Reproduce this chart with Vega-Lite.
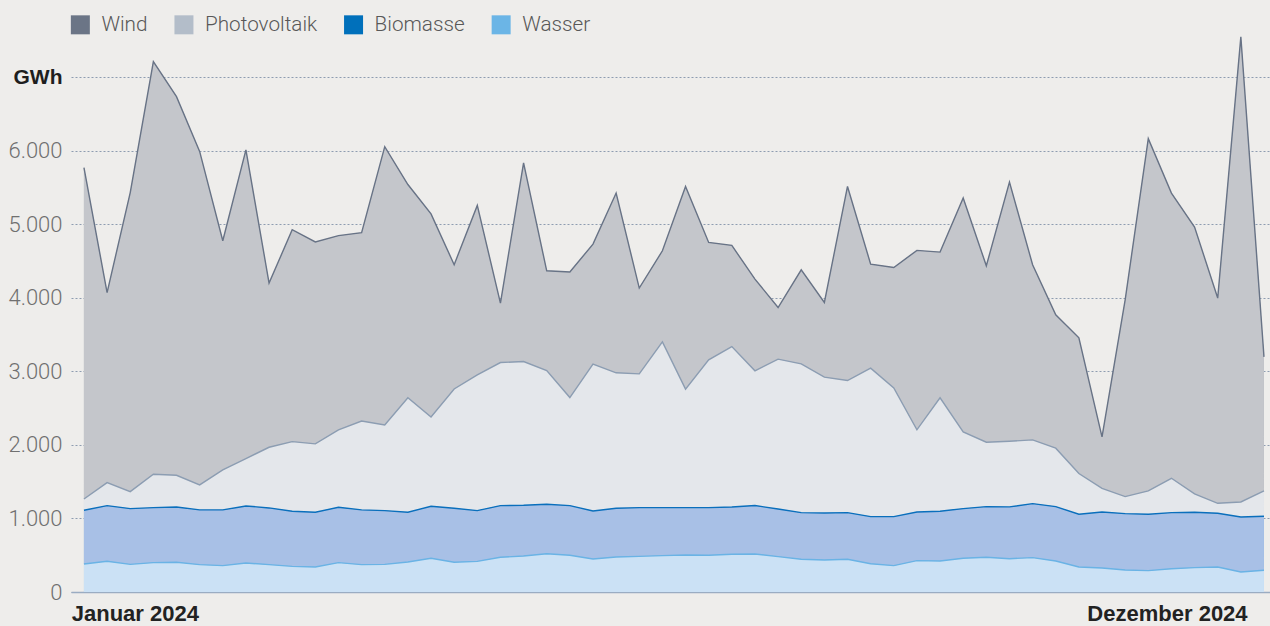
{
  "$schema": "https://vega.github.io/schema/vega-lite/v6.json",
  "width": 1199,
  "height": 559,
  "autosize": "none",
  "padding": {"left": 71, "top": 33, "right": 0, "bottom": 34},
  "background": "#eeedeb",
  "config": {"view": {"stroke": null}},
  "data": {"values": [
    {"w":0,"Wasser":381,"Biomasse":730,"Photovoltaik":154,"Wind":4505},
    {"w":1,"Wasser":417,"Biomasse":757,"Photovoltaik":313,"Wind":2583},
    {"w":2,"Wasser":376,"Biomasse":758,"Photovoltaik":231,"Wind":4065},
    {"w":3,"Wasser":399,"Biomasse":748,"Photovoltaik":454,"Wind":5609},
    {"w":4,"Wasser":404,"Biomasse":752,"Photovoltaik":431,"Wind":5148},
    {"w":5,"Wasser":372,"Biomasse":744,"Photovoltaik":340,"Wind":4534},
    {"w":6,"Wasser":358,"Biomasse":758,"Photovoltaik":544,"Wind":3115},
    {"w":7,"Wasser":395,"Biomasse":775,"Photovoltaik":644,"Wind":4196},
    {"w":8,"Wasser":372,"Biomasse":771,"Photovoltaik":825,"Wind":2232},
    {"w":9,"Wasser":349,"Biomasse":749,"Photovoltaik":947,"Wind":2880},
    {"w":10,"Wasser":340,"Biomasse":744,"Photovoltaik":930,"Wind":2746},
    {"w":11,"Wasser":399,"Biomasse":753,"Photovoltaik":1053,"Wind":2640},
    {"w":12,"Wasser":372,"Biomasse":744,"Photovoltaik":1209,"Wind":2560},
    {"w":13,"Wasser":376,"Biomasse":731,"Photovoltaik":1163,"Wind":3785},
    {"w":14,"Wasser":408,"Biomasse":676,"Photovoltaik":1556,"Wind":2900},
    {"w":15,"Wasser":458,"Biomasse":708,"Photovoltaik":1214,"Wind":2760},
    {"w":16,"Wasser":404,"Biomasse":735,"Photovoltaik":1621,"Wind":1690},
    {"w":17,"Wasser":417,"Biomasse":690,"Photovoltaik":1845,"Wind":2304},
    {"w":18,"Wasser":472,"Biomasse":703,"Photovoltaik":1945,"Wind":808},
    {"w":19,"Wasser":490,"Biomasse":689,"Photovoltaik":1954,"Wind":2700},
    {"w":20,"Wasser":521,"Biomasse":672,"Photovoltaik":1818,"Wind":1356},
    {"w":21,"Wasser":499,"Biomasse":676,"Photovoltaik":1469,"Wind":1706},
    {"w":22,"Wasser":449,"Biomasse":653,"Photovoltaik":1996,"Wind":1632},
    {"w":23,"Wasser":476,"Biomasse":663,"Photovoltaik":1841,"Wind":2444},
    {"w":24,"Wasser":485,"Biomasse":662,"Photovoltaik":1819,"Wind":1166},
    {"w":25,"Wasser":494,"Biomasse":653,"Photovoltaik":2254,"Wind":1238},
    {"w":26,"Wasser":503,"Biomasse":644,"Photovoltaik":1611,"Wind":2756},
    {"w":27,"Wasser":499,"Biomasse":648,"Photovoltaik":2009,"Wind":1596},
    {"w":28,"Wasser":513,"Biomasse":643,"Photovoltaik":2181,"Wind":1375},
    {"w":29,"Wasser":517,"Biomasse":658,"Photovoltaik":1832,"Wind":1247},
    {"w":30,"Wasser":481,"Biomasse":648,"Photovoltaik":2037,"Wind":702},
    {"w":31,"Wasser":445,"Biomasse":634,"Photovoltaik":2023,"Wind":1279},
    {"w":32,"Wasser":435,"Biomasse":640,"Photovoltaik":1846,"Wind":1015},
    {"w":33,"Wasser":445,"Biomasse":634,"Photovoltaik":1796,"Wind":2639},
    {"w":34,"Wasser":385,"Biomasse":640,"Photovoltaik":2019,"Wind":1414},
    {"w":35,"Wasser":358,"Biomasse":667,"Photovoltaik":1750,"Wind":1637},
    {"w":36,"Wasser":426,"Biomasse":662,"Photovoltaik":1117,"Wind":2439},
    {"w":37,"Wasser":422,"Biomasse":676,"Photovoltaik":1542,"Wind":1981},
    {"w":38,"Wasser":458,"Biomasse":676,"Photovoltaik":1043,"Wind":3179},
    {"w":39,"Wasser":472,"Biomasse":689,"Photovoltaik":876,"Wind":2398},
    {"w":40,"Wasser":453,"Biomasse":704,"Photovoltaik":893,"Wind":3524},
    {"w":41,"Wasser":467,"Biomasse":735,"Photovoltaik":866,"Wind":2381},
    {"w":42,"Wasser":422,"Biomasse":739,"Photovoltaik":794,"Wind":1814},
    {"w":43,"Wasser":340,"Biomasse":717,"Photovoltaik":553,"Wind":1846},
    {"w":44,"Wasser":327,"Biomasse":761,"Photovoltaik":322,"Wind":699},
    {"w":45,"Wasser":299,"Biomasse":767,"Photovoltaik":231,"Wind":2676},
    {"w":46,"Wasser":290,"Biomasse":767,"Photovoltaik":317,"Wind":4789},
    {"w":47,"Wasser":317,"Biomasse":762,"Photovoltaik":467,"Wind":3878},
    {"w":48,"Wasser":331,"Biomasse":753,"Photovoltaik":249,"Wind":3629},
    {"w":49,"Wasser":340,"Biomasse":730,"Photovoltaik":136,"Wind":2790},
    {"w":50,"Wasser":272,"Biomasse":748,"Photovoltaik":204,"Wind":6323},
    {"w":51,"Wasser":295,"Biomasse":735,"Photovoltaik":344,"Wind":1823}
  ]},
  "transform": [
    {"fold": ["Wind", "Photovoltaik", "Biomasse", "Wasser"], "as": ["source", "value"]},
    {"calculate": "indexof(['Wasser','Biomasse','Photovoltaik','Wind'], datum.source)", "as": "k"},
    {"calculate": "datum.source", "as": "edge"},
    {"stack": "value", "groupby": ["w"], "sort": [{"field": "k", "order": "ascending"}], "as": ["y0", "y1"]}
  ],
  "encoding": {
    "x": {
      "field": "w", "type": "quantitative",
      "scale": {"domain": [-0.56, 51.26], "nice": false, "zero": false},
      "axis": {
        "title": null,
        "values": [-0.55, 50.27],
        "labelExpr": "datum.value < 10 ? 'Januar 2024' : 'Dezember 2024'",
        "labelAlign": {"condition": {"test": "datum.value < 10", "value": "left"}, "value": "right"},
        "labelFont": "Liberation Sans",
        "labelFontWeight": "bold",
        "labelFontSize": 22,
        "labelColor": "#222222",
        "labelPadding": 11,
        "labelBaseline": "top",
        "labelOverlap": false,
        "labelBound": false,
        "labelFlush": false,
        "ticks": false,
        "grid": false,
        "domain": true,
        "domainColor": "#9aacc2",
        "domainWidth": 1.5
      }
    },
    "y": {
      "field": "y1", "type": "quantitative",
      "scale": {"domain": [0, 7600], "nice": false},
      "axis": {
        "title": null,
        "values": [0, 1000, 2000, 3000, 4000, 5000, 6000, 7000],
        "labelExpr": "datum.value == 7000 ? 'GWh' : replace(format(datum.value, ','), ',', '.')",
        "ticks": false,
        "domain": false,
        "grid": true,
        "gridColor": "#8e9cb0",
        "gridDash": [2, 2],
        "gridWidth": 1,
        "labelFont": {"condition": {"test": "datum.value == 7000", "value": "Liberation Sans"}, "value": "Roboto"},
        "labelFontWeight": {"condition": {"test": "datum.value == 7000", "value": "bold"}, "value": 300},
        "labelFontSize": {"condition": {"test": "datum.value == 7000", "value": 21}, "value": 22},
        "labelColor": {"condition": {"test": "datum.value == 7000", "value": "#1e1e1e"}, "value": "#707070"},
        "labelPadding": 9
      }
    }
  },
  "layer": [
    {
      "mark": {"type": "area", "interpolate": "linear"},
      "encoding": {
        "y2": {"field": "y0"},
        "fill": {
          "field": "source", "type": "nominal",
          "scale": {"domain": ["Wind", "Photovoltaik", "Biomasse", "Wasser"], "range": ["#6b7586", "#b3bdc9", "#0070bb", "#6bb5e6"]},
          "legend": {
            "orient": "none", "legendX": -1, "legendY": -19,
            "direction": "horizontal", "title": null,
            "symbolType": "square", "symbolSize": 361, "symbolStrokeWidth": 0, "symbolOpacity": 1,
            "labelFont": "Roboto", "labelFontWeight": 300, "labelFontSize": 20.7, "labelColor": "#585858",
            "labelOffset": 10.7, "columnPadding": 25.6
          }
        }
      }
    },
    {
      "mark": {"type": "area", "interpolate": "linear"},
      "encoding": {
        "y2": {"field": "y0"},
        "color": {
          "field": "edge", "type": "nominal", "legend": null,
          "scale": {"domain": ["Wind", "Photovoltaik", "Biomasse", "Wasser"], "range": ["#c4c6cb", "#e4e7eb", "#a8c0e6", "#cbe1f5"]}
        }
      }
    },
    {
      "mark": {"type": "line", "interpolate": "linear", "strokeWidth": 1.4},
      "encoding": {
        "stroke": {
          "field": "edge", "type": "nominal", "legend": null,
          "scale": {"domain": ["Wind", "Photovoltaik", "Biomasse", "Wasser"], "range": ["#687386", "#8c9db2", "#0a6fbc", "#6ab3e5"]}
        }
      }
    }
  ]
}
